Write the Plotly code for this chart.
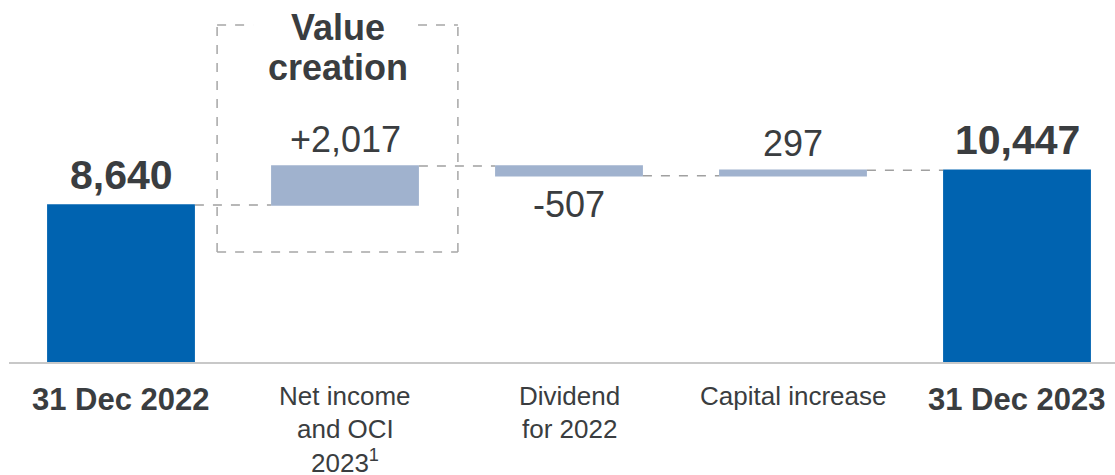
import plotly.graph_objects as go

categories = ["31 Dec 2022", "Net income<br>and OCI<br>2023<sup>1</sup>", "Dividend<br>for 2022", "Capital increase", "31 Dec 2023"]
measures = ["absolute", "relative", "relative", "relative", "total"]
values = [8640, 2017, -507, 297, 10447]
value_labels = ["8,640", "+2,017", "-507", "297", "10,447"]
bold_flags = [True, False, False, False, True]
box_title = ["Value", "creation"]

TEXT = "#3A3D40"
BLUE = "#0063B0"
LIGHT = "#A0B2CE"
FONT = "Liberation Sans, Arial, sans-serif"

fig = go.Figure(go.Waterfall(
    x=list(range(len(categories))),
    measure=measures,
    y=values,
    width=0.66,
    totals=dict(marker=dict(color=BLUE)),
    increasing=dict(marker=dict(color=LIGHT)),
    decreasing=dict(marker=dict(color=LIGHT)),
    connector=dict(line=dict(color="#A0A0A0", width=1.5, dash="dash")),
    hoverinfo="skip",
))

# running levels for label placement
levels = []
run = 0
for m, v in zip(measures, values):
    if m == "absolute":
        start, run = 0, v
    elif m == "total":
        start = 0
    else:
        start, run = run, run + v
    levels.append((start, run))

annotations = []
for i, (lab, b, (s, e)) in enumerate(zip(value_labels, bold_flags, levels)):
    if values[i] < 0 and measures[i] == "relative":
        y, shift = min(s, e), -29
    else:
        y, shift = max(s, e), 30 if b else 27
    annotations.append(dict(
        x=i, y=y, xref="x", yref="y", text=f"<b>{lab}</b>" if b else lab,
        showarrow=False, yanchor="middle", yshift=shift,
        font=dict(size=41 if b else 36, color=TEXT, family=FONT)))

# category labels, one annotation per line for exact line spacing
for i, (cat, b) in enumerate(zip(categories, bold_flags)):
    for k, line in enumerate(cat.split("<br>")):
        annotations.append(dict(
            x=i, y=0, xref="x", yref="paper", text=f"<b>{line}</b>" if b else line,
            showarrow=False, yanchor="middle", borderpad=0,
            yshift=-(37 if b else 34) - 32.5 * k,
            font=dict(size=31 if b else 26, color=TEXT, family=FONT)))

for j, line in enumerate(box_title):
    annotations.append(dict(
        x=1 - 0.033, y=1.0, xref="x", yref="paper", text=f"<b>{line}</b>",
        showarrow=False, yanchor="middle", yshift=-27 - 40 * j,
        font=dict(size=36, color=TEXT, family=FONT)))

box = dict(type="line", xref="x", yref="paper",
           line=dict(color="#A6A6A6", width=1.5, dash="dash"))
x_l, x_r = 1 - 0.571, 1 + 0.504
y_t, y_b = 0.931, 0.304
shapes = [
    dict(box, x0=x_l, x1=x_l, y0=y_b, y1=y_t),
    dict(box, x0=x_r, x1=x_r, y0=y_b, y1=y_t),
    dict(box, x0=x_l, x1=x_r, y0=y_b, y1=y_b),
    dict(box, x0=x_l, x1=1 - 0.41, y0=y_t, y1=y_t),
    dict(box, x0=1 + 0.326, x1=x_r, y0=y_t, y1=y_t),
]

fig.update_layout(
    width=1115, height=475,
    margin=dict(l=9, r=0, t=0, b=113),
    paper_bgcolor="white", plot_bgcolor="white",
    showlegend=False,
    annotations=annotations,
    shapes=shapes,
    xaxis=dict(range=[-0.5, 4.4375], showticklabels=False, showgrid=False,
               zeroline=False, showline=True, linecolor="#C8C8C8", linewidth=2,
               fixedrange=True),
    yaxis=dict(range=[470, 470 + 362 * 52], visible=False, showgrid=False,
               zeroline=False, fixedrange=True),
)

fig.write_html("out.html", config={"displayModeBar": False},
               post_script="document.body.style.margin='0';document.body.style.overflow='hidden';")
